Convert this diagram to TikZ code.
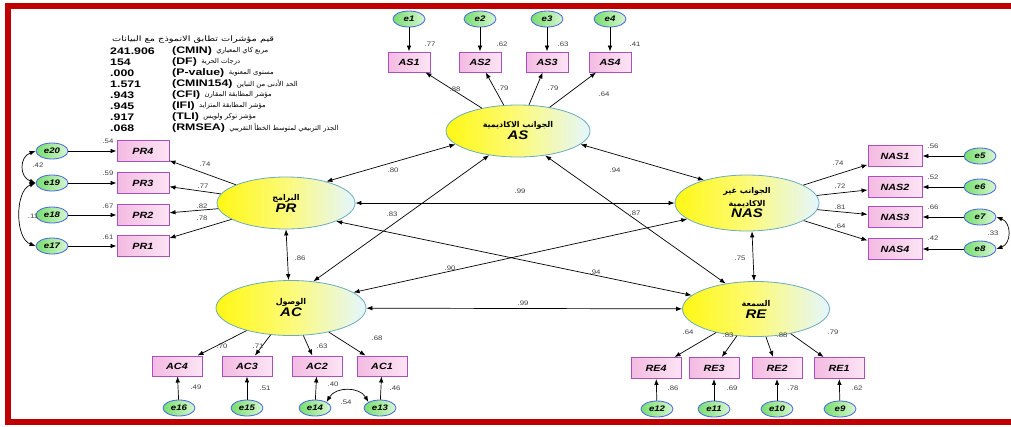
\documentclass[tikz,border=0pt]{standalone}
\usepackage{fontspec}
\setmainfont{Liberation Sans}
\newfontfamily\arabicfont[Script=Arabic]{DejaVu Sans}
\TeXXeTstate=1
\usetikzlibrary{arrows.meta,shapes.geometric}
\definecolor{frameR}{RGB}{192,0,0}
\definecolor{latL}{RGB}{255,248,20}
\definecolor{latM}{RGB}{252,250,120}
\definecolor{latR}{RGB}{228,246,255}
\definecolor{latB}{RGB}{110,170,190}
\definecolor{obsL}{RGB}{244,186,226}
\definecolor{obsR}{RGB}{252,228,244}
\definecolor{obsB}{RGB}{170,80,190}
\definecolor{errL}{RGB}{120,222,110}
\definecolor{errR}{RGB}{215,246,210}
\definecolor{errB}{RGB}{70,100,230}
\definecolor{lblC}{RGB}{60,60,60}
\newcommand{\sx}[1]{\scalebox{1.2}[1]{#1}}
\newcommand{\sxx}[1]{\scalebox{1.3}[1]{#1}}
\begin{document}
\begin{tikzpicture}[x=1pt,y=-1pt,
  lat/.style={ellipse, draw=latB, line width=0.8pt, inner sep=0pt, left color=latL, right color=latR, middle color=latM, align=center},
  obs/.style={rectangle, draw=obsB, line width=0.9pt, inner sep=0pt, minimum width=46, minimum height=20, left color=obsL, right color=obsR, font=\bfseries\itshape\fontsize{9}{9}\selectfont},
  err/.style={ellipse, draw=errB, line width=0.8pt, inner sep=0pt, minimum width=32, minimum height=16, left color=errL, right color=errR, font=\bfseries\itshape\fontsize{8}{8}\selectfont},
  lbl/.style={inner sep=0pt, text=lblC, font=\fontsize{6.5}{7}\selectfont},
  stat/.style={inner sep=0pt, anchor=west, font=\bfseries\fontsize{9.5}{10}\selectfont},
  arab/.style={inner sep=0pt, anchor=west, font=\arabicfont\fontsize{6.8}{7}\selectfont},
  pth/.style={-{Latex[length=6pt,width=4.5pt]}, line width=0.7pt},
  cov/.style={{Latex[length=6pt,width=4.5pt]}-{Latex[length=6pt,width=4.5pt]}, line width=0.7pt}
]
\useasboundingbox (0,0) rectangle (1011,426);
% frame
\fill[frameR] (5,3) rectangle (1011,9);
\fill[frameR] (5,3) rectangle (11,425);
\fill[frameR] (5,419) rectangle (1011,425);

% fit statistics
\node[arab, anchor=west, font=\arabicfont\fontsize{7.5}{8}\selectfont] (hdr) at (112,40) {\sxx{\beginR قيم مؤشرات تطابق الانموذج مع البيانات\endR}};
\node[stat] (n1) at (110,51) {\sxx{241.906}};
\node[stat] (c1) at (172,51) {\sxx{(CMIN)}};
\node[arab] (a1) at ([xshift=4pt]c1.east) {\beginR مربع كاي المعياري\endR};
\node[stat] (n2) at (110,62) {\sxx{154}};
\node[stat] (c2) at (172,62) {\sxx{(DF)}};
\node[arab] (a2) at ([xshift=4pt]c2.east) {\beginR درجات الحرية\endR};
\node[stat] (n3) at (110,73) {\sxx{.000}};
\node[stat] (c3) at (172,73) {\sxx{(P-value)}};
\node[arab] (a3) at ([xshift=4pt]c3.east) {\beginR مستوى المعنوية\endR};
\node[stat] (n4) at (110,84) {\sxx{1.571}};
\node[stat] (c4) at (172,84) {\sxx{(CMIN154)}};
\node[arab] (a4) at ([xshift=4pt]c4.east) {\beginR الحد الأدنى من التباين\endR};
\node[stat] (n5) at (110,95) {\sxx{.943}};
\node[stat] (c5) at (172,95) {\sxx{(CFI)}};
\node[arab] (a5) at ([xshift=4pt]c5.east) {\beginR مؤشر المطابقة المقارن\endR};
\node[stat] (n6) at (110,106) {\sxx{.945}};
\node[stat] (c6) at (172,106) {\sxx{(IFI)}};
\node[arab] (a6) at ([xshift=4pt]c6.east) {\beginR مؤشر المطابقة المتزايد\endR};
\node[stat] (n7) at (110,117) {\sxx{.917}};
\node[stat] (c7) at (172,117) {\sxx{(TLI)}};
\node[arab] (a7) at ([xshift=4pt]c7.east) {\beginR مؤشر توكر ولويس\endR};
\node[stat] (n8) at (110,128) {\sxx{.068}};
\node[stat] (c8) at (172,128) {\sxx{(RMSEA)}};
\node[arab] (a8) at ([xshift=4pt]c8.east) {\beginR الجذر التربيعي لمتوسط الخطأ التقريبي\endR};

% latent variables
\newcommand{\latf}[1]{{\bfseries\itshape\fontsize{12.5}{13}\selectfont\sx{#1}}}
\newcommand{\latar}[1]{{\arabicfont\bfseries\fontsize{8}{9}\selectfont\beginR #1\endR}}
\node[lat, minimum width=144, minimum height=52] (AS) at (518,131) {\latar{الجوانب الاكاديمية}\\\latf{AS}};
\node[lat, minimum width=138, minimum height=52] (PR) at (286,203) {\latar{البرامج}\\\latf{PR}};
\node[lat, minimum width=144, minimum height=56] (NAS) at (747,203) {\latar{الجوانب غير}\\[1pt]\latar{الاكاديمية}\\[-1pt]\latf{NAS}};
\node[lat, minimum width=150, minimum height=55] (AC) at (291,308) {\latar{الوصول}\\\latf{AC}};
\node[lat, minimum width=147, minimum height=55] (RE) at (756,309) {\latar{السمعة}\\\latf{RE}};

% observed: AS
\node[obs, minimum width=42] (AS1) at (409,62) {\sx{AS1}};
\node[obs, minimum width=42] (AS2) at (480,62) {\sx{AS2}};
\node[obs, minimum width=42] (AS3) at (547,62) {\sx{AS3}};
\node[obs, minimum width=42] (AS4) at (610,62) {\sx{AS4}};
\node[err] (e1) at (409,19) {\sx{e1}};
\node[err] (e2) at (480,19) {\sx{e2}};
\node[err] (e3) at (547,19) {\sx{e3}};
\node[err] (e4) at (610,19) {\sx{e4}};
% observed: PR
\node[obs, minimum width=52, minimum height=21] (PR4) at (143,151) {\sx{PR4}};
\node[obs, minimum width=52, minimum height=21] (PR3) at (143,183) {\sx{PR3}};
\node[obs, minimum width=52, minimum height=21] (PR2) at (143,215) {\sx{PR2}};
\node[obs, minimum width=52, minimum height=21] (PR1) at (143,246) {\sx{PR1}};
\node[err] (e20) at (52,151) {\sx{e20}};
\node[err] (e19) at (52,183) {\sx{e19}};
\node[err] (e18) at (52,215) {\sx{e18}};
\node[err] (e17) at (52,246) {\sx{e17}};
% observed: NAS
\node[obs, minimum width=54, minimum height=21] (NAS1) at (895,156) {\sx{NAS1}};
\node[obs, minimum width=54, minimum height=21] (NAS2) at (895,187) {\sx{NAS2}};
\node[obs, minimum width=54, minimum height=21] (NAS3) at (895,217) {\sx{NAS3}};
\node[obs, minimum width=54, minimum height=21] (NAS4) at (895,249) {\sx{NAS4}};
\node[err] (e5) at (980,156) {\sx{e5}};
\node[err] (e6) at (980,187) {\sx{e6}};
\node[err] (e7) at (980,217) {\sx{e7}};
\node[err] (e8) at (980,249) {\sx{e8}};
% observed: AC
\node[obs, minimum width=50] (AC4) at (177,366) {\sx{AC4}};
\node[obs, minimum width=50] (AC3) at (247,366) {\sx{AC3}};
\node[obs, minimum width=50] (AC2) at (317,366) {\sx{AC2}};
\node[obs, minimum width=50] (AC1) at (382,366) {\sx{AC1}};
\node[err] (e16) at (179,408) {\sx{e16}};
\node[err] (e15) at (247,408) {\sx{e15}};
\node[err] (e14) at (315,408) {\sx{e14}};
\node[err] (e13) at (380,408) {\sx{e13}};
% observed: RE
\node[obs, minimum width=50, minimum height=21] (RE4) at (656,368) {\sx{RE4}};
\node[obs, minimum width=50, minimum height=21] (RE3) at (714,368) {\sx{RE3}};
\node[obs, minimum width=50, minimum height=21] (RE2) at (777,368) {\sx{RE2}};
\node[obs, minimum width=50, minimum height=21] (RE1) at (839,368) {\sx{RE1}};
\node[err] (e12) at (657,409) {\sx{e12}};
\node[err] (e11) at (714,409) {\sx{e11}};
\node[err] (e10) at (777,409) {\sx{e10}};
\node[err] (e9) at (840,409) {\sx{e9}};

% error paths
\foreach \e/\o in {e1/AS1,e2/AS2,e3/AS3,e4/AS4,e20/PR4,e19/PR3,e18/PR2,e17/PR1,e5/NAS1,e6/NAS2,e7/NAS3,e8/NAS4,e16/AC4,e15/AC3,e14/AC2,e13/AC1,e12/RE4,e11/RE3,e10/RE2,e9/RE1}
  \draw[pth] (\e) -- (\o);
% loadings
\foreach \l/\o in {AS/AS1,AS/AS2,AS/AS3,AS/AS4,PR/PR4,PR/PR3,PR/PR2,PR/PR1,NAS/NAS1,NAS/NAS2,NAS/NAS3,NAS/NAS4,AC/AC4,AC/AC3,AC/AC2,AC/AC1,RE/RE4,RE/RE3,RE/RE2,RE/RE1}
  \draw[pth] (\l) -- (\o);

% latent covariances
\draw[cov] (AS.192) -- (PR.28);
\draw[cov] (AS.348) -- (NAS.152);
\draw[cov] (PR) -- (NAS);
\draw[cov] (PR.south) -- (AC.95);
\draw[cov] (AS.220) -- (AC.50);
\draw[cov] (AS.318) -- (RE.140);
\draw[cov] (NAS.195) -- (AC.14);
\draw[cov] (PR.340) -- (RE.168);
\draw[cov] (AC) -- (RE);
\draw[cov] (NAS.280) -- (RE.94);

% error covariances
\draw[cov] (e20.west) to[out=200,in=160,looseness=1.4] (e19.west);
\draw[cov] (e19.west) to[out=200,in=160,looseness=0.9] (e17.west);
\draw[cov] (e7.east) to[out=-20,in=20,looseness=1.3] (e8.east);
\draw[cov] (e14.north east) to[out=60,in=120,looseness=1.1] (e13.north west);

% labels
\foreach \t/\x/\y in {.77/430/44,.62/502/44,.63/563/44,.41/635/44,
  .88/455/89,.79/503/88,.79/553/88,.64/604/94,
  .54/108/141,.59/108/173,.67/108/206,.61/108/237,
  .74/205/164,.77/203/186,.82/202/206,.78/202/218,
  .42/38/165,.11/33/216,
  .56/933/146,.52/933/177,.66/933/207,.42/933/238,
  .74/838/163,.72/840/186,.81/840/207,.64/840/226,
  .33/993/233,
  .70/222/346,.71/258/346,.63/322/346,.68/377/338,
  .49/196/387,.51/265/388,.40/333/384,.46/395/388,
  .54/346/402,
  .64/688/332,.83/728/335,.88/782/335,.79/833/332,
  .86/673/388,.69/732/388,.78/793/388,.62/857/388,
  .80/393/170,.94/615/170,.99/520/191,.83/392/214,.86/300/258,
  .90/450/268,.94/595/272,.87/635/213,.99/523/303,.75/740/258}
  \node[lbl] at (\x,\y) {\sx{\t}};
\end{tikzpicture}
\end{document}
